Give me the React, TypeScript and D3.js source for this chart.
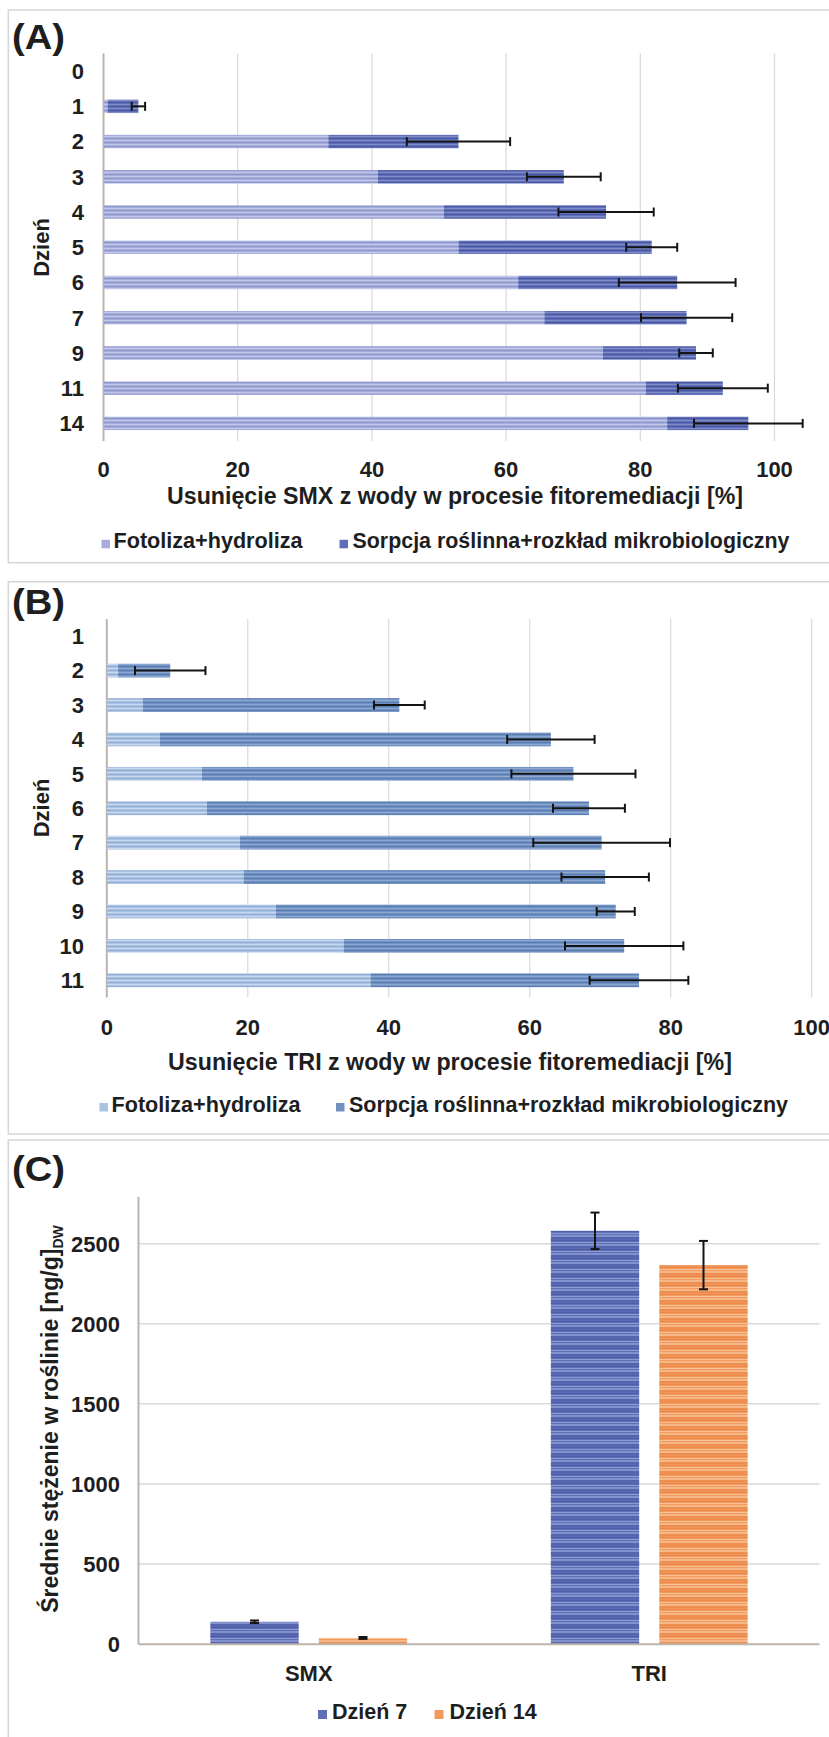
import React from 'react';
import * as d3 from 'd3';

// ---------- DATA ----------
const daysA = ['0', '1', '2', '3', '4', '5', '6', '7', '9', '11', '14'];
const fotolizaA = [0, 0.6, 33.5, 40.9, 50.7, 52.9, 61.8, 65.7, 74.4, 80.8, 84.0];
const sorpcjaA = [0, 4.6, 19.4, 27.7, 24.2, 28.8, 23.7, 21.2, 13.9, 11.5, 12.1];
const errA = [0, 1.0, 7.7, 5.5, 7.1, 3.8, 8.7, 6.8, 2.5, 6.7, 8.1];

const daysB = ['1', '2', '3', '4', '5', '6', '7', '8', '9', '10', '11'];
const fotolizaB = [0, 1.6, 5.1, 7.5, 13.5, 14.2, 18.9, 19.4, 24.0, 33.6, 37.4];
const sorpcjaB = [0, 7.4, 36.4, 55.5, 52.7, 54.2, 51.3, 51.3, 48.2, 39.8, 38.1];
const errB = [0, 5.0, 3.6, 6.2, 8.8, 5.1, 9.7, 6.2, 2.7, 8.4, 7.0];

const percentTicks = [0, 20, 40, 60, 80, 100];

const compounds = ['SMX', 'TRI'];
const seriesC = ['Dzień 7', 'Dzień 14'];
const day7 = [140, 2580];
const day14 = [39, 2366];
const err7 = [8, 114];
const err14 = [6, 151];
const concTicks = [0, 500, 1000, 1500, 2000, 2500];

const legendA = ['Fotoliza+hydroliza', 'Sorpcja roślinna+rozkład mikrobiologiczny'];

// ---------- STYLE ----------
const FONT = '"Liberation Sans", Arial, sans-serif';
const TXT = '#1e1e1e';
const GRID = '#d9d9d9';
const AXIS = '#bdb4ac';

type Pal = { base: string; light: string; dark: string };
const palA1: Pal = { base: '#a6addb', light: '#c3c8e9', dark: '#8f98cf' };
const palA2: Pal = { base: '#5f6eb6', light: '#7f8cc6', dark: '#4a59a6' };
const palB1: Pal = { base: '#aac3e3', light: '#c8d8ef', dark: '#93b0d8' };
const palB2: Pal = { base: '#7091c1', light: '#8ca8d0', dark: '#5a7db2' };
const palC1: Pal = { base: '#5f6fb7', light: '#8e9bd2', dark: '#4858a3' };
const palC2: Pal = { base: '#f29a5e', light: '#f8c196', dark: '#ea8444' };

function Stripes({ id, p, h }: { id: string; p: Pal; h: number }) {
  return (
    <pattern id={id} patternUnits="userSpaceOnUse" width={10} height={h}>
      <rect width={10} height={h} fill={p.base} />
      <rect y={0} width={10} height={1} fill={p.light} />
      <rect y={h * 0.5} width={10} height={1} fill={p.dark} />
      {h > 6 ? <rect y={h * 0.25} width={10} height={1.5} fill={p.light} /> : null}
      {h > 6 ? <rect y={h * 0.75} width={10} height={1} fill={p.dark} /> : null}
    </pattern>
  );
}

type HProps = {
  letter: string;
  panelY: number;
  panelH: number;
  letterY: number;
  cats: string[];
  fot: number[];
  sor: number[];
  err: number[];
  x0: number;
  x100: number;
  top: number;
  bottom: number;
  pad: number;
  tickY: number;
  title: string;
  titleX: number;
  titleY: number;
  titleLen: number;
  dzienY: number;
  legY: number;
  leg1X: number;
  leg2X: number;
  leg2Len: number;
  leg1Len: number;
  p1: string;
  p2: string;
  c1: string;
  c2: string;
};

function HPanel(o: HProps) {
  const x = d3.scaleLinear().domain([0, 100]).range([o.x0, o.x100]);
  const y = d3.scaleBand<string>().domain(o.cats).range([o.top, o.bottom]).paddingInner(o.pad).paddingOuter(o.pad / 2);
  const bw = y.bandwidth();
  return (
    <g>
      <rect x={8.3} y={o.panelY} width={840} height={o.panelH} fill="#fff" stroke="#d6d6d6" strokeWidth={1.5} />
      <text x={12} y={o.letterY} fontSize={35} fontWeight="bold" fill={TXT} fontFamily={FONT} textLength={53} lengthAdjust="spacingAndGlyphs">{`(${o.letter})`}</text>
      {percentTicks.filter((t) => t > 0).map((t) => (
        <line key={t} x1={x(t)} x2={x(t)} y1={o.top} y2={o.bottom} stroke={GRID} strokeWidth={1.2} />
      ))}
      <line x1={x(0)} x2={x(0)} y1={o.top} y2={o.bottom} stroke={AXIS} strokeWidth={2} />
      {o.cats.map((c, i) => {
        const yy = y(c)!;
        const tot = o.fot[i] + o.sor[i];
        const cy = yy + bw / 2;
        return (
          <g key={c}>
            {o.fot[i] > 0 ? <rect x={x(0)} y={yy} width={x(o.fot[i]) - x(0)} height={bw} fill={`url(#${o.p1})`} /> : null}
            {o.sor[i] > 0 ? <rect x={x(o.fot[i])} y={yy} width={x(tot) - x(o.fot[i])} height={bw} fill={`url(#${o.p2})`} /> : null}
            {o.err[i] > 0 ? (
              <g stroke="#141414" strokeWidth={2}>
                <line x1={x(tot - o.err[i])} x2={x(tot + o.err[i])} y1={cy} y2={cy} />
                <line x1={x(tot - o.err[i])} x2={x(tot - o.err[i])} y1={cy - 4.5} y2={cy + 4.5} />
                <line x1={x(tot + o.err[i])} x2={x(tot + o.err[i])} y1={cy - 4.5} y2={cy + 4.5} />
              </g>
            ) : null}
            <text x={84} y={cy + 7.8} textAnchor="end" fontSize={22} fontWeight="bold" fill={TXT} fontFamily={FONT}>{c}</text>
          </g>
        );
      })}
      {percentTicks.map((t) => (
        <text key={t} x={x(t)} y={o.tickY} textAnchor="middle" fontSize={22} fontWeight="bold" fill={TXT} fontFamily={FONT}>{t}</text>
      ))}
      <text x={o.titleX} y={o.titleY} textAnchor="middle" fontSize={23} fontWeight="bold" fill={TXT} fontFamily={FONT} textLength={o.titleLen} lengthAdjust="spacingAndGlyphs">{o.title}</text>
      <text transform={`translate(49,${o.dzienY}) rotate(-90)`} textAnchor="middle" fontSize={22} fontWeight="bold" fill={TXT} fontFamily={FONT}>Dzień</text>
      <rect x={o.leg1X} y={o.legY - 8.5} width={8.5} height={8.5} fill={o.c1} />
      <text x={o.leg1X + 12} y={o.legY} fontSize={21.5} fontWeight="bold" fill={TXT} fontFamily={FONT} textLength={o.leg1Len} lengthAdjust="spacingAndGlyphs">{legendA[0]}</text>
      <rect x={o.leg2X} y={o.legY - 8.5} width={8.5} height={8.5} fill={o.c2} />
      <text x={o.leg2X + 13} y={o.legY} fontSize={21.5} fontWeight="bold" fill={TXT} fontFamily={FONT} textLength={o.leg2Len} lengthAdjust="spacingAndGlyphs">{legendA[1]}</text>
    </g>
  );
}

function PanelC() {
  const left = 138.5;
  const right = 819.5;
  const y = d3.scaleLinear().domain([0, 2793]).range([1644.2, 1196.7]);
  const x0 = d3.scaleBand<string>().domain(compounds).range([left, right]);
  const x1 = d3.scaleBand<string>().domain(seriesC).range([0, x0.bandwidth()]).paddingInner(0.1854).paddingOuter(0.662);
  const vals = [day7, day14];
  const errs = [err7, err14];
  const pats = ['patC1', 'patC2'];
  const cols = [palC1.base, palC2.base];
  return (
    <g>
      <rect x={8.3} y={1140} width={840} height={620} fill="#fff" stroke="#d6d6d6" strokeWidth={1.5} />
      <text x={12} y={1180.5} fontSize={35} fontWeight="bold" fill={TXT} fontFamily={FONT} textLength={53} lengthAdjust="spacingAndGlyphs">(C)</text>
      {concTicks.filter((t) => t > 0).map((t) => (
        <line key={t} x1={left} x2={right} y1={y(t)} y2={y(t)} stroke={GRID} strokeWidth={1.5} />
      ))}
      {concTicks.map((t) => (
        <text key={t} x={120} y={y(t) + 8} textAnchor="end" fontSize={22} fontWeight="bold" fill={TXT} fontFamily={FONT}>{t}</text>
      ))}
      <line x1={left} x2={left} y1={y(2793)} y2={y(0)} stroke={AXIS} strokeWidth={2} />
      {compounds.map((c, ci) => (
        <g key={c}>
          {seriesC.map((s, si) => {
            const bx = x0(c)! + x1(s)!;
            const v = vals[si][ci];
            const e = errs[si][ci];
            const cx = bx + x1.bandwidth() / 2;
            return (
              <g key={s}>
                <rect x={bx} y={y(v)} width={x1.bandwidth()} height={y(0) - y(v)} fill={`url(#${pats[si]})`} />
                <g stroke="#141414" strokeWidth={2}>
                  <line x1={cx} x2={cx} y1={y(v - e)} y2={y(v + e)} />
                  <line x1={cx - 4.5} x2={cx + 4.5} y1={y(v - e)} y2={y(v - e)} />
                  <line x1={cx - 4.5} x2={cx + 4.5} y1={y(v + e)} y2={y(v + e)} />
                </g>
              </g>
            );
          })}
          <text x={x0(c)! + x0.bandwidth() / 2} y={1681} textAnchor="middle" fontSize={22} fontWeight="bold" fill={TXT} fontFamily={FONT}>{c}</text>
        </g>
      ))}
      <line x1={left} x2={right} y1={y(0)} y2={y(0)} stroke={AXIS} strokeWidth={2} />
      <text transform="translate(58,1419) rotate(-90)" textAnchor="middle" fontSize={23} fontWeight="bold" fill={TXT} fontFamily={FONT}>
        <tspan>Średnie stężenie w roślinie [ng/g]</tspan>
        <tspan dy={5} fontSize={14}>DW</tspan>
      </text>
      <rect x={318} y={1710} width={9} height={9} fill={cols[0]} />
      <text x={332} y={1719} fontSize={21.5} fontWeight="bold" fill={TXT} fontFamily={FONT}>{seriesC[0]}</text>
      <rect x={434.5} y={1710} width={9} height={9} fill={cols[1]} />
      <text x={449.5} y={1719} fontSize={21.5} fontWeight="bold" fill={TXT} fontFamily={FONT}>{seriesC[1]}</text>
    </g>
  );
}

export default function App() {
  return (
    <svg width={829} height={1737} style={{ position: 'absolute', left: 0, top: 0, background: '#fff' }}>
      <defs>
        <Stripes id="patA1" p={palA1} h={4} />
        <Stripes id="patA2" p={palA2} h={4} />
        <Stripes id="patB1" p={palB1} h={4} />
        <Stripes id="patB2" p={palB2} h={4} />
        <Stripes id="patC1" p={palC1} h={9} />
        <Stripes id="patC2" p={palC2} h={9} />
      </defs>
      <rect width={829} height={1737} fill="#fff" />
      <HPanel
        letter="A" panelY={10} panelH={552.7} letterY={48.5}
        cats={daysA} fot={fotolizaA} sor={sorpcjaA} err={errA}
        x0={103.5} x100={774.5} top={53.5} bottom={441} pad={0.62}
        tickY={477} title="Usunięcie SMX z wody w procesie fitoremediacji [%]" titleX={455} titleY={504} titleLen={576}
        dzienY={247.5} legY={548.3} leg1X={101.5} leg2X={339.5} leg1Len={189} leg2Len={437}
        p1="patA1" p2="patA2" c1={palA1.base} c2={palA2.base}
      />
      <HPanel
        letter="B" panelY={581.7} panelH={552.3} letterY={614}
        cats={daysB} fot={fotolizaB} sor={sorpcjaB} err={errB}
        x0={106.8} x100={811.7} top={619} bottom={997.5} pad={0.6}
        tickY={1035} title="Usunięcie TRI z wody w procesie fitoremediacji [%]" titleX={450} titleY={1069.5} titleLen={564}
        dzienY={808} legY={1111.5} leg1X={99.5} leg2X={336} leg1Len={189} leg2Len={439}
        p1="patB1" p2="patB2" c1={palB1.base} c2={palB2.base}
      />
      <PanelC />
    </svg>
  );
}
